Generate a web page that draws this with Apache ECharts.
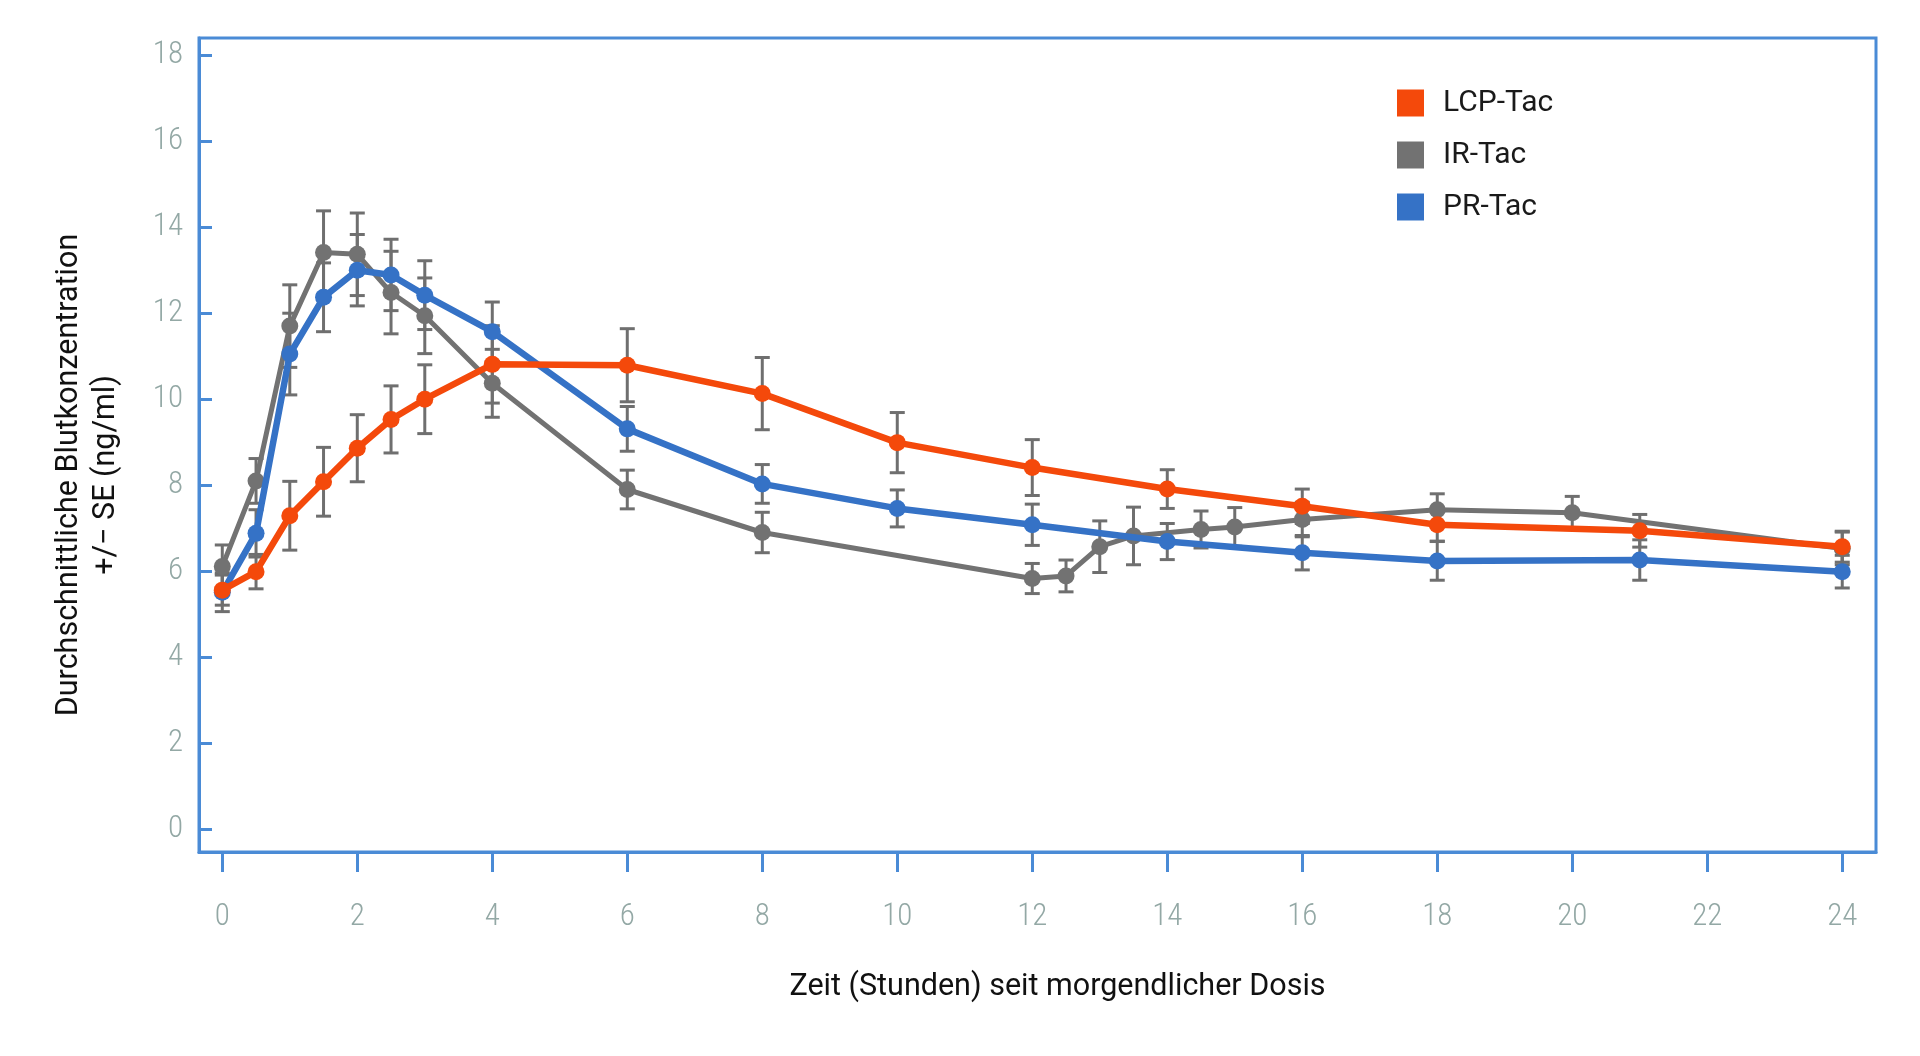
<!DOCTYPE html>
<html>
<head>
<meta charset="utf-8">
<script src="https://cdn.jsdelivr.net/npm/echarts@6/dist/echarts.min.js"></script>
<style>
  html, body { margin: 0; padding: 0; background: #fff; }
  #chart { width: 1920px; height: 1056px; }
</style>
</head>
<body>
<div id="chart"></div>
<script>
// Zeitpunkte (Stunden) und Mittelwerte +/- SE je Formulierung
const lcpTimes = [0, 0.5, 1, 1.5, 2, 2.5, 3, 4, 6, 8, 10, 12, 14, 16, 18, 21, 24];
const lcpMean = [5.55, 5.98, 7.28, 8.07, 8.85, 9.52, 9.99, 10.8, 10.78, 10.12, 8.98, 8.4, 7.9, 7.5, 7.07, 6.93, 6.56];
const lcpSE = [0.35, 0.4, 0.8, 0.8, 0.78, 0.78, 0.8, 0.9, 0.85, 0.84, 0.7, 0.65, 0.45, 0.4, 0.38, 0.38, 0.36];

const irTimes = [0, 0.5, 1, 1.5, 2, 2.5, 3, 4, 6, 8, 12, 12.5, 13, 13.5, 14.5, 15, 16, 18, 20, 24];
const irMean = [6.1, 8.09, 11.69, 13.4, 13.36, 12.47, 11.93, 10.36, 7.89, 6.89, 5.82, 5.88, 6.56, 6.81, 6.96, 7.02, 7.19, 7.42, 7.35, 6.52];
const irSE = [0.5, 0.52, 0.96, 0.97, 0.96, 0.96, 0.88, 0.79, 0.45, 0.47, 0.35, 0.37, 0.6, 0.67, 0.43, 0.45, 0.4, 0.37, 0.38, 0.38];

const prTimes = [0, 0.5, 1, 1.5, 2, 2.5, 3, 4, 6, 8, 10, 12, 14, 16, 18, 21, 24];
const prMean = [5.5, 6.87, 11.04, 12.36, 12.99, 12.88, 12.41, 11.56, 9.3, 8.02, 7.45, 7.07, 6.68, 6.42, 6.23, 6.25, 5.98];
const prSE = [0.45, 0.55, 0.95, 0.8, 0.83, 0.83, 0.8, 0.69, 0.52, 0.45, 0.43, 0.48, 0.42, 0.4, 0.45, 0.47, 0.38];

const xTicks = [0, 2, 4, 6, 8, 10, 12, 14, 16, 18, 20, 22, 24];
const yTicks = [0, 2, 4, 6, 8, 10, 12, 14, 16, 18];

const seriesNames = ['LCP-Tac', 'IR-Tac', 'PR-Tac'];
const colors = { 'LCP-Tac': '#f4490b', 'IR-Tac': '#727272', 'PR-Tac': '#3572c6' };

const axisBlue = '#4a8bd6';
const tickGrey = '#93a8a5';
const barGrey = '#6f6f6f';
const tickFont = "'Liberation Sans Narrow', 'Roboto Condensed', Roboto";

const pairs = (t, v) => t.map((x, i) => [x, v[i]]);
const bars = (t, v, se) => t.map((x, i) => [x, v[i] - se[i], v[i] + se[i]]);

function renderErrorBar(params, api) {
  const x = api.value(0);
  const top = api.coord([x, api.value(2)]);
  const bot = api.coord([x, api.value(1)]);
  const w = 7.5;
  const style = { stroke: barGrey, lineWidth: 3 };
  return {
    type: 'group',
    children: [
      { type: 'line', shape: { x1: top[0], y1: top[1], x2: bot[0], y2: bot[1] }, style },
      { type: 'line', shape: { x1: top[0] - w, y1: top[1], x2: top[0] + w, y2: top[1] }, style },
      { type: 'line', shape: { x1: bot[0] - w, y1: bot[1], x2: bot[0] + w, y2: bot[1] }, style }
    ]
  };
}

function errorSeries(t, v, se) {
  return {
    type: 'custom',
    renderItem: renderErrorBar,
    data: bars(t, v, se),
    encode: { x: 0, y: [1, 2] },
    z: 1,
    silent: true
  };
}

function lineSeries(name, t, v, width, z) {
  return {
    name,
    type: 'line',
    data: pairs(t, v),
    symbol: 'circle',
    symbolSize: 17,
    showSymbol: true,
    lineStyle: { width, color: colors[name] },
    itemStyle: { color: colors[name] },
    z
  };
}

const option = {
  animation: false,
  backgroundColor: '#fff',
  grid: {
    left: 199, right: 44, top: 38, bottom: 204,
    show: true, borderColor: axisBlue, borderWidth: 3
  },
  legend: {
    data: seriesNames,
    orient: 'vertical',
    left: 1397,
    top: 88,
    padding: 0,
    icon: 'rect',
    itemWidth: 27,
    itemHeight: 27,
    itemGap: 22,
    textStyle: {
      fontFamily: 'Roboto', fontSize: 30, color: '#1a1a1a',
      lineHeight: 27, padding: [0, 0, 0, 14]
    }
  },
  xAxis: {
    type: 'value',
    min: -0.345,
    max: 24.5,
    name: 'Zeit (Stunden) seit morgendlicher Dosis',
    nameLocation: 'middle',
    nameGap: 120,
    nameTextStyle: { fontFamily: 'Roboto', fontSize: 30.5, color: '#111', padding: [0, 0, 0, 40] },
    axisLine: { onZero: false, lineStyle: { color: axisBlue, width: 3 } },
    axisTick: { customValues: xTicks, length: 20, lineStyle: { color: axisBlue, width: 3 } },
    axisLabel: {
      customValues: xTicks, margin: 50,
      fontFamily: tickFont, fontWeight: 300,
      fontSize: 31, color: tickGrey
    },
    splitLine: { show: false }
  },
  yAxis: {
    type: 'value',
    min: -0.54,
    max: 18.39,
    name: 'Durchschnittliche Blutkonzentration\n+/− SE (ng/ml)',
    nameLocation: 'middle',
    nameRotate: 90,
    nameGap: 74,
    nameTextStyle: {
      fontFamily: 'Roboto', fontSize: 30.5, color: '#111', lineHeight: 37,
      align: 'center', padding: [0, 60, 0, 0]
    },
    axisLine: { onZero: false, lineStyle: { color: axisBlue, width: 3 } },
    axisTick: { customValues: yTicks, inside: true, length: 13, lineStyle: { color: axisBlue, width: 3 } },
    axisLabel: {
      customValues: yTicks, margin: 16,
      fontFamily: tickFont, fontWeight: 300,
      fontSize: 31, color: tickGrey
    },
    splitLine: { show: false }
  },
  series: [
    errorSeries(irTimes, irMean, irSE),
    errorSeries(prTimes, prMean, prSE),
    errorSeries(lcpTimes, lcpMean, lcpSE),
    lineSeries('IR-Tac', irTimes, irMean, 5, 2),
    lineSeries('PR-Tac', prTimes, prMean, 6.5, 3),
    lineSeries('LCP-Tac', lcpTimes, lcpMean, 6.5, 4)
  ]
};

const chart = echarts.init(document.getElementById('chart'));
chart.setOption(option);
</script>
</body>
</html>
